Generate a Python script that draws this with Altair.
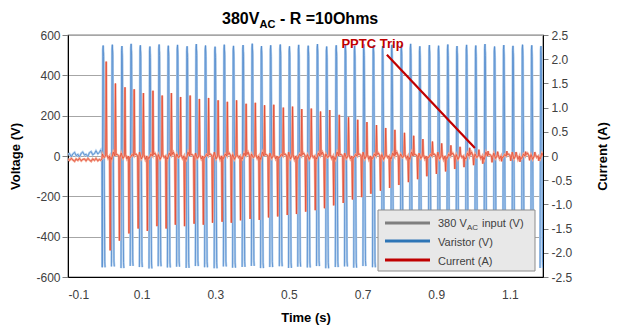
import altair as alt
import pandas as pd

# ---------------- data ----------------
# start time (s) of each waveform column after switch-on
cycle_start = [-0.007, 0.018, 0.044, 0.069, 0.094, 0.120, 0.145, 0.170, 0.195, 0.221,
               0.246, 0.271, 0.297, 0.322, 0.347, 0.373, 0.398, 0.423, 0.448, 0.474,
               0.499, 0.524, 0.550, 0.575, 0.600, 0.626, 0.651, 0.676, 0.701, 0.727,
               0.752, 0.777, 0.803, 0.828, 0.853, 0.879, 0.904, 0.929, 0.954, 0.980,
               1.005, 1.030, 1.056, 1.081, 1.106, 1.132, 1.157, 1.182]
# varistor voltage peaks (V) per column
blue_top = [548, 552, 545, 556, 549, 543, 553, 547, 551, 544,
            555, 548, 542, 552, 546, 550, 557, 545, 549, 553,
            544, 551, 547, 555, 543, 549, 552, 546, 554, 548,
            545, 551, 549, 556, 544, 550, 547, 553, 545, 551,
            548, 555, 543, 550, 546, 552, 549, 545]
blue_bot = [-552, -548, -556, -545, -551, -558, -547, -553, -549, -555,
            -546, -552, -557, -548, -554, -550, -545, -556, -551, -547,
            -555, -549, -553, -546, -557, -551, -548, -554, -546, -552,
            -556, -549, -551, -545, -555, -550, -553, -547, -555, -549,
            -552, -546, -557, -550, -554, -548, -551, -555]
# current spike peaks (A) per column
red_pos = [1.95, 1.50, 1.42, 1.38, 1.30, 1.35, 1.25, 1.30, 1.22, 1.25,
           1.18, 1.20, 1.15, 1.12, 1.15, 1.08, 1.10, 1.05, 1.06, 1.00,
           1.02, 0.97, 0.98, 0.92, 0.95, 0.85, 0.80, 0.75, 0.70, 0.64,
           0.58, 0.54, 0.48, 0.42, 0.35, 0.30, 0.26, 0.22, 0.19, 0.17,
           0.13, 0.10, 0.09, 0.10, 0.08, 0.09, 0.08, 0.07]
red_neg = [-1.95, -1.75, -1.60, -1.50, -1.55, -1.45, -1.50, -1.42, -1.45, -1.40,
           -1.42, -1.38, -1.36, -1.38, -1.33, -1.30, -1.32, -1.27, -1.25, -1.22,
           -1.20, -1.15, -1.12, -1.08, -1.02, -0.97, -0.90, -0.85, -0.78, -0.72,
           -0.66, -0.60, -0.54, -0.48, -0.42, -0.37, -0.32, -0.27, -0.23, -0.19,
           -0.16, -0.13, -0.11, -0.10, -0.12, -0.09, -0.10, -0.08]
red_noise = [0.04, -0.07, 0.06, -0.03, 0.08, -0.05, 0.03, -0.06]

# before switch-on
pre_t = [-0.100, -0.096, -0.091, -0.087, -0.082, -0.078, -0.073, -0.069, -0.064, -0.060,
         -0.055, -0.051, -0.046, -0.042, -0.037, -0.033, -0.028, -0.024, -0.019, -0.015,
         -0.011, -0.008]
pre_blue = [5, 12, -4, 10, 18, 2, 8, -6, 14, 20, 4, 9, -3, 16, 22, 6, 12, 26, 10, 18, 30, 8]
pre_red = [-0.06, -0.09, -0.05, -0.08, -0.11, -0.06, -0.09, -0.05, -0.10, -0.07, -0.06,
           -0.10, -0.05, -0.08, -0.11, -0.06, -0.09, -0.05, -0.10, -0.07, -0.09, -0.06]

x_ticks = [-0.1, 0.1, 0.3, 0.5, 0.7, 0.9, 1.1]
v_ticks = [-600, -400, -200, 0, 200, 400, 600]
a_ticks = [-2.5, -2.0, -1.5, -1.0, -0.5, 0, 0.5, 1.0, 1.5, 2.0, 2.5]

pptc_t = [0.766, 1.005]
pptc_a = [2.09, 0.166]
pptc_label_t = [0.727]
pptc_label_a = [2.23]

# ---------------- tables ----------------
blue_dt = [0.0, 0.0015, 0.0025, 0.0036, 0.0068, 0.0078]
blue_rows = [{"t": t, "v": v, "cyc": 0} for t, v in zip(pre_t, pre_blue)]
gray_rows = []
for k, s in enumerate(cycle_start):
    top, bot = blue_top[k], blue_bot[k]
    for dt, v in zip(blue_dt, [bot, 0.96 * top, top, 0.9 * top, 0.95 * bot, bot]):
        blue_rows.append({"t": s + dt, "v": v, "cyc": k})
    for dt, v in zip([0.0006, 0.0020, 0.0042, 0.0072],
                     [0.97 * bot, 0.98 * top, 0.93 * top, 0.97 * bot]):
        gray_rows.append({"t": s + dt, "v": v, "cyc": k})
blue_df = pd.DataFrame(blue_rows)
gray_df = pd.DataFrame(gray_rows)

red_rows = [{"t": t, "a": a} for t, a in zip(pre_t, pre_red)]
for k, s in enumerate(cycle_start):
    pts = [(0.0005, red_noise[k % 8]), (0.0050, red_noise[(k + 3) % 8]),
           (0.0092, 0.0), (0.0108, red_pos[k]), (0.0124, 0.03),
           (0.0160, red_noise[(k + 5) % 8]), (0.0200, 0.0),
           (0.0216, red_neg[k]), (0.0232, -0.03)]
    for dt, a in pts:
        red_rows.append({"t": s + dt, "a": a})
red_df = pd.DataFrame(red_rows)

arrow_df = pd.DataFrame({"t": [pptc_t[0]], "t2": [pptc_t[1]], "a": [pptc_a[0]], "a2": [pptc_a[1]]})
label_df = pd.DataFrame({"t": pptc_label_t, "a": pptc_label_a})
one = pd.DataFrame({"k": [0]})

FONT = "Liberation Sans"

x_enc = alt.X("t:Q", scale=alt.Scale(domain=[-0.1, 1.19], nice=False, zero=False),
              axis=alt.Axis(values=x_ticks, title="Time (s)", grid=False, ticks=False,
                            labelPadding=12, titlePadding=11,
                            labelExpr="'' + round(datum.value*10)/10"))
v_enc = alt.Y("v:Q", scale=alt.Scale(domain=[-600, 600], nice=False, zero=False),
              axis=alt.Axis(values=v_ticks, title="Voltage (V)", grid=True, orient="left",
                            tickSize=6, labelPadding=2, titlePadding=13,
                            labelExpr="'' + datum.value"))
a_enc = alt.Y("a:Q", scale=alt.Scale(domain=[-2.5, 2.5], nice=False, zero=False),
              axis=alt.Axis(values=a_ticks, title="Current (A)", grid=False, orient="right",
                            tickSize=5, labelPadding=3, titlePadding=38, titleAngle=270,
                            titleBaseline="bottom",
                            labelExpr="datum.value == 0 ? '0' : (datum.value == round(datum.value) ? datum.value + '.0' : '' + datum.value)"))

gray_line = alt.Chart(gray_df).mark_line(color="#808080", strokeWidth=0.8, clip=True).encode(
    x=x_enc, y=v_enc, detail="cyc:N")
blue_light = alt.Chart(blue_df).mark_line(color="#b3d0ee", strokeWidth=2.2, clip=True).encode(
    x=x_enc, y=v_enc, detail="cyc:N")
blue_dark = alt.Chart(blue_df).mark_line(color="#4f88cc", strokeWidth=0.8, clip=True).encode(
    x=x_enc, y=v_enc, detail="cyc:N")
volt = alt.layer(gray_line, blue_light, blue_dark)

red_light = alt.Chart(red_df).mark_line(color="#f4a48f", strokeWidth=2.2, clip=True).encode(
    x=x_enc, y=a_enc)
red_dark = alt.Chart(red_df).mark_line(color="#e0452f", strokeWidth=0.7, clip=True).encode(
    x=x_enc, y=a_enc)
arrow = alt.Chart(arrow_df).mark_rule(color="#c00000", strokeWidth=2.2).encode(
    x=x_enc, x2="t2:Q", y=a_enc, y2="a2:Q")
label = alt.Chart(label_df).mark_text(text="PPTC Trip", color="#c00000", font=FONT,
                                      fontSize=13, fontWeight="bold", align="center",
                                      baseline="alphabetic").encode(x=x_enc, y=a_enc)
cur = alt.layer(red_light, red_dark, arrow, label)


def txt(s, x, y, size, bold=False, color="#404040"):
    return alt.Chart(one).mark_text(text=s, font=FONT, fontSize=size,
                                    fontWeight="bold" if bold else "normal",
                                    color=color, align="left", baseline="alphabetic").encode(
        x=alt.value(x), y=alt.value(y))


def rule(x1, x2, y, color):
    return alt.Chart(one).mark_rule(color=color, strokeWidth=3).encode(
        x=alt.value(x1), x2=alt.value(x2), y=alt.value(y))


legend_box = alt.Chart(one).mark_rect(fill="#e8e8e8", stroke="#8c8c8c", strokeWidth=1).encode(
    x=alt.value(310), x2=alt.value(467), y=alt.value(175), y2=alt.value(236))

overlay = alt.layer(
    legend_box,
    rule(317, 362, 188, "#7f7f7f"),
    rule(317, 362, 206, "#2e75b6"),
    rule(317, 362, 225, "#c00000"),
    txt("380 V", 370, 192, 11),
    txt("AC", 399, 195, 8),
    txt("input (V)", 414, 192, 11),
    txt("Varistor (V)", 370, 211, 11),
    txt("Current (A)", 370, 230, 11),
    txt("380V", 154, -11, 16, True, "black"),
    txt("AC", 191.5, -7.5, 11, True, "black"),
    txt("- R =10Ohms", 212, -11, 16, True, "black"),
)

chart = alt.layer(volt, cur, overlay).resolve_scale(y="independent").properties(
    width=475, height=242,
    autosize=alt.AutoSizeParams(type="none"),
    padding={"left": 68, "top": 35, "right": 77, "bottom": 52},
    background="white",
).configure_view(stroke="black", strokeWidth=1.2).configure_axis(
    labelFont=FONT, labelFontSize=12, labelColor="#404040",
    titleFont=FONT, titleFontSize=13, titleFontWeight="bold", titleColor="black",
    domainColor="black", tickColor="#808080", gridColor="#a6a6a6", gridWidth=1,
)

chart.save("out.html", embed_options={"renderer": "svg", "actions": False})
